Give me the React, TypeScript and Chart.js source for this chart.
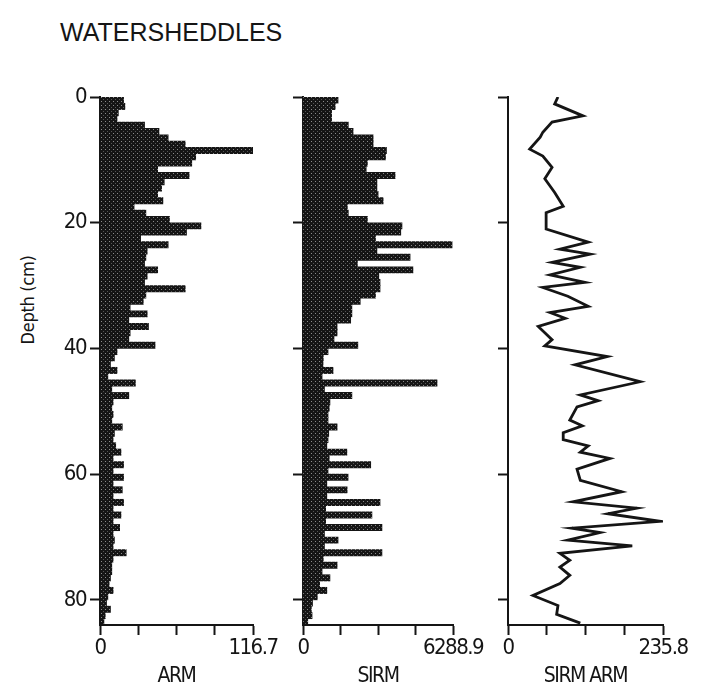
import React, { useEffect, useRef } from 'react';
import { Chart, registerables } from 'chart.js';

Chart.register(...registerables);

// ---------- data ----------
const depthMax = 84;
const depthTicks = [0, 20, 40, 60, 80];

// mid-depth (cm) of each 1 cm sample
const sampleDepths = [
  0.5, 1.5, 2.5, 3.5, 4.5, 5.5, 6.5, 7.5, 8.5, 9.5,
  10.5, 11.5, 12.5, 13.5, 14.5, 15.5, 16.5, 17.5, 18.5, 19.5,
  20.5, 21.5, 22.5, 23.5, 24.5, 25.5, 26.5, 27.5, 28.5, 29.5,
  30.5, 31.5, 32.5, 33.5, 34.5, 35.5, 36.5, 37.5, 38.5, 39.5,
  40.5, 41.5, 42.5, 43.5, 44.5, 45.5, 46.5, 47.5, 48.5, 49.5,
  50.5, 51.5, 52.5, 53.5, 54.5, 55.5, 56.5, 57.5, 58.5, 59.5,
  60.5, 61.5, 62.5, 63.5, 64.5, 65.5, 66.5, 67.5, 68.5, 69.5,
  70.5, 71.5, 72.5, 73.5, 74.5, 75.5, 76.5, 77.5, 78.5, 79.5,
  80.5, 81.5, 82.5, 83.5,
];

const armValues = [
  18, 19, 14, 13, 34, 45, 52, 65, 116.7, 73,
  70, 44, 68, 49, 47, 44, 48, 26, 35, 53,
  77, 66, 31, 52, 36, 35, 34, 44, 36, 34,
  65, 35, 33, 23, 36, 22, 37, 23, 22, 42,
  13, 11, 8, 13, 6, 27, 9, 22, 10, 9,
  10, 9, 17, 11, 10, 12, 16, 10, 18, 10,
  18, 10, 17, 10, 18, 10, 16, 10, 15, 10,
  11, 10, 20, 10, 9, 9, 8, 7, 10, 6,
  5, 8, 4, 3,
];

const sirmValues = [
  1470, 1350, 1200, 1200, 1900, 2100, 2940, 2940, 3500, 3460,
  2700, 2650, 3860, 3100, 3100, 3150, 3360, 1860, 1900, 2700,
  4150, 4100, 3040, 6250, 3100, 4490, 2280, 4610, 3180, 3230,
  3230, 3040, 2400, 2050, 2050, 2000, 1430, 1430, 1300, 2300,
  1050, 850, 840, 1260, 800, 5620, 900, 2050, 1130, 1100,
  1050, 1050, 1430, 1080, 1050, 1000, 1840, 1100, 2840, 1050,
  1890, 1000, 1850, 1000, 3230, 950, 2890, 950, 3310, 900,
  1470, 900, 3310, 850, 1430, 800, 1130, 700, 1000, 600,
  400, 350, 380, 200,
];

const ratioDepths = [
  0, 1.1, 3, 4, 5.6, 6.4, 8.3, 9.4, 11.2, 13,
  15.2, 17.4, 18.4, 21, 23.1, 24.2, 25, 26.3, 27.1, 28.3,
  29.5, 30.3, 31.7, 33.3, 34.3, 35.2, 36.5, 38.6, 39.6, 41.3,
  42.6, 45.3, 47.4, 48.3, 49.3, 51.4, 52.3, 53.4, 54.5, 55.5,
  56.5, 57.5, 59.2, 61, 62.8, 64.4, 65.4, 66.3, 67.5, 68.6,
  69.3, 70.5, 71.4, 72.6, 73.7, 74.8, 76.1, 77.4, 79.3, 80.9,
  82.3, 83.7,
];
const ratioValues = [
  76, 71, 114, 67, 53, 49, 33, 53, 67, 56,
  71, 84, 58, 58, 122, 79, 125, 67, 110, 64,
  117, 53, 91, 122, 64, 87, 46, 67, 56, 151,
  102, 201, 110, 137, 105, 94, 113, 84, 84, 122,
  110, 155, 105, 110, 173, 99, 196, 152, 231, 97,
  140, 91, 189, 79, 94, 79, 94, 79, 38, 76,
  74, 110,
];

const armMax = 116.7;
const sirmMax = 6288.9;
const ratioMax = 235.8;

// ---------- layout ----------
const PAGE_W = 704;
const PAGE_H = 693;
const AREA_TOP = 97;
const AREA_BOTTOM = 625;
const INK = '#151515';
const NARROW = '"Liberation Sans Narrow", "Arial Narrow", "DejaVu Sans Condensed", sans-serif';

const narrowText = {
  id: 'narrowText',
  beforeDraw: (c: any) => {
    c.ctx.letterSpacing = '-1.5px';
  },
};

function makeStipple(ctx: CanvasRenderingContext2D): CanvasPattern | string {
  const tile = document.createElement('canvas');
  tile.width = 4;
  tile.height = 4;
  const t = tile.getContext('2d');
  if (!t) return INK;
  t.fillStyle = INK;
  t.fillRect(0, 0, 4, 4);
  t.fillStyle = '#8c8c8c';
  t.fillRect(1, 1, 1, 1);
  t.fillStyle = '#555';
  t.fillRect(3, 3, 1, 1);
  return ctx.createPattern(tile, 'repeat') || INK;
}

type PanelProps = {
  left: number;
  width: number;
  areaLeft: number;
  areaRight: number;
  kind: 'bar' | 'line';
  values: number[];
  depths: number[];
  max: number;
  maxLabel: string;
  title: string;
  depthLabels: boolean;
};

function Panel(p: PanelProps) {
  const ref = useRef<HTMLCanvasElement>(null);
  useEffect(() => {
    const canvas = ref.current as HTMLCanvasElement;
    const ctx2d = canvas.getContext('2d') as CanvasRenderingContext2D;
    const yWidth = p.areaLeft - p.left;
    const padRight = p.left + p.width - p.areaRight;
    const pts = p.values.map((v, i) => ({ x: v, y: p.depths[i] }));
    const xTickVals = [0, p.max * 0.25, p.max * 0.5, p.max * 0.75, p.max];
    const dataset: any =
      p.kind === 'bar'
        ? {
            data: pts,
            backgroundColor: makeStipple(ctx2d),
            borderWidth: 0,
            barPercentage: 1,
            categoryPercentage: 1,
          }
        : {
            data: pts,
            showLine: true,
            borderColor: INK,
            borderWidth: 2.8,
            pointRadius: 0,
            tension: 0,
            fill: false,
          };
    const chart = new Chart(canvas, {
      type: p.kind === 'bar' ? 'bar' : 'scatter',
      data: { datasets: [dataset] },
      plugins: [narrowText],
      options: {
        responsive: false,
        animation: false,
        indexAxis: p.kind === 'bar' ? 'y' : 'x',
        layout: { padding: { top: AREA_TOP, right: padRight, bottom: 0, left: 0 } },
        plugins: { legend: { display: false }, tooltip: { enabled: false } },
        scales: {
          x: {
            type: 'linear',
            position: 'bottom',
            min: 0,
            max: p.max,
            offset: false,
            afterBuildTicks: (s: any) => {
              s.ticks = xTickVals.map((v) => ({ value: v }));
            },
            afterFit: (s: any) => {
              s.height = PAGE_H - AREA_BOTTOM;
              s.paddingLeft = 0;
              s.paddingRight = 0;
            },
            grid: {
              offset: false,
              drawOnChartArea: false,
              drawTicks: true,
              tickLength: 10,
              tickWidth: 2,
              tickColor: INK,
            },
            border: { display: true, color: INK, width: 2 },
            ticks: {
              autoSkip: false,
              maxRotation: 0,
              padding: 0,
              color: INK,
              font: { family: NARROW, size: 22 },
              callback: (v: any) => (v === 0 ? '0' : Math.abs(v - p.max) < 1e-9 ? p.maxLabel : ''),
            },
            title: {
              display: true,
              text: p.title,
              color: INK,
              font: { family: NARROW, size: 21 },
              padding: { top: 0, bottom: 4 },
            },
          },
          y: {
            type: 'linear',
            position: 'left',
            reverse: true,
            min: 0,
            max: depthMax,
            offset: false,
            afterBuildTicks: (s: any) => {
              s.ticks = depthTicks.map((v) => ({ value: v }));
            },
            afterFit: (s: any) => {
              s.width = yWidth;
              s.paddingTop = 0;
              s.paddingBottom = 0;
            },
            grid: {
              offset: false,
              drawOnChartArea: false,
              drawTicks: true,
              tickLength: 10,
              tickWidth: 2,
              tickColor: INK,
            },
            border: { display: true, color: INK, width: 2 },
            ticks: {
              display: p.depthLabels,
              padding: 4,
              color: INK,
              font: { family: NARROW, size: 22 },
              callback: (v: any) => String(v),
            },
          },
        },
      } as any,
    });
    return () => chart.destroy();
  }, []);
  return (
    <canvas
      ref={ref}
      width={p.width}
      height={PAGE_H}
      style={{ position: 'absolute', left: p.left, top: 0, width: p.width, height: PAGE_H }}
    />
  );
}

export default function App() {
  return (
    <div
      style={{
        position: 'fixed',
        left: 0,
        top: 0,
        width: PAGE_W,
        height: PAGE_H,
        background: '#fff',
        overflow: 'hidden',
      }}
    >
      <div
        style={{
          position: 'absolute',
          left: 60,
          top: 18,
          fontFamily: '"Liberation Sans", Arial, sans-serif',
          fontSize: 25,
          color: INK,
          whiteSpace: 'nowrap',
          lineHeight: '28px',
        }}
      >
        WATERSHEDDLES
      </div>
      <div
        style={{
          position: 'absolute',
          left: 27,
          top: 300,
          transform: 'translate(-50%, -50%) rotate(-90deg)',
          fontFamily: NARROW,
          fontSize: 18,
          letterSpacing: '-0.3px',
          color: INK,
          whiteSpace: 'nowrap',
        }}
      >
        Depth (cm)
      </div>
      <Panel left={0} width={285} areaLeft={100} areaRight={253} kind="bar" values={armValues} depths={sampleDepths} max={armMax} maxLabel="116.7" title="ARM" depthLabels={true} />
      <Panel left={270} width={225} areaLeft={303} areaRight={453} kind="bar" values={sirmValues} depths={sampleDepths} max={sirmMax} maxLabel="6288.9" title="SIRM" depthLabels={false} />
      <Panel left={475} width={229} areaLeft={508} areaRight={663} kind="line" values={ratioValues} depths={ratioDepths} max={ratioMax} maxLabel="235.8" title="SIRM ARM" depthLabels={false} />
    </div>
  );
}
